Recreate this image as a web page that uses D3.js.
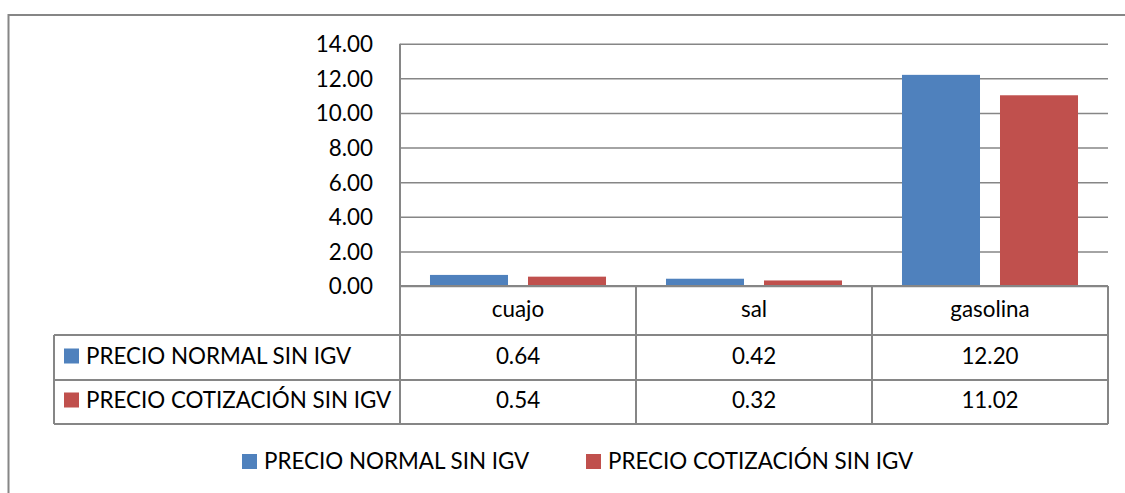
<!DOCTYPE html>
<html>
<head>
<meta charset="utf-8">
<script src="https://cdn.jsdelivr.net/npm/d3@7"></script>
<style>
  body { margin: 0; background: #fff; }
  svg { display: block; }
  text { font-family: Lato, "Liberation Sans", sans-serif; fill: #000; }
</style>
</head>
<body>
<div id="chart"></div>
<script>
// data
const categories = ["cuajo", "sal", "gasolina"];
const seriesNames = ["PRECIO NORMAL SIN IGV", "PRECIO COTIZACIÓN SIN IGV"];
const precioNormal = [0.64, 0.42, 12.20];
const precioCotizacion = [0.54, 0.32, 11.02];
const yTickValues = [0, 2, 4, 6, 8, 10, 12, 14];
const seriesColors = ["#4F81BD", "#C0504D"];

const W = 1125, H = 493;
const plot = {left: 400, right: 1108, top: 43.7, bottom: 286};
const fontSize = 22.4;
const lineColor = "#868686";

const allSeries = [precioNormal, precioCotizacion];

const svg = d3.select("#chart")
    .append("svg")
    .attr("width", W)
    .attr("height", H);

// outer chart border (runs past right/bottom of the frame)
svg.append("rect")
    .attr("x", 8.5).attr("y", 15)
    .attr("width", 1140).attr("height", 500)
    .attr("fill", "#fff")
    .attr("stroke", lineColor)
    .attr("stroke-width", 2);

const y = d3.scaleLinear().domain([0, 14]).range([plot.bottom, plot.top]);
const x0 = d3.scaleBand().domain(categories).range([plot.left, plot.right]);
const x1 = d3.scaleBand().domain(d3.range(seriesNames.length))
    .range([0, x0.bandwidth()])
    .paddingInner(0.204)
    .paddingOuter(0.306);

// gridlines
const grid = svg.append("g")
    .attr("transform", "translate(" + plot.left + ",0)")
    .call(d3.axisLeft(y).tickValues(yTickValues).tickSize(-(plot.right - plot.left)).tickFormat(""));
grid.select(".domain").remove();
grid.selectAll(".tick line").attr("stroke", lineColor).attr("stroke-width", 1.5);

// tick labels
const yAxis = svg.append("g")
    .attr("transform", "translate(" + plot.left + ",0)")
    .call(d3.axisLeft(y).tickValues(yTickValues).tickSize(0).tickPadding(27).tickFormat(d3.format(".2f")));
yAxis.select(".domain").remove();
yAxis.selectAll("text")
    .attr("dy", "0.35em")
    .style("font-family", "Lato, 'Liberation Sans', sans-serif")
    .style("font-size", fontSize + "px")
    .attr("fill", "#000");

// bars
const groups = svg.append("g")
    .selectAll("g")
    .data(categories)
    .enter()
    .append("g")
    .attr("transform", d => "translate(" + x0(d) + ",0)");

groups.selectAll("rect")
    .data((d, i) => allSeries.map((s, k) => ({k: k, v: s[i]})))
    .enter()
    .append("rect")
    .attr("x", d => x1(d.k))
    .attr("width", x1.bandwidth())
    .attr("y", d => y(d.v))
    .attr("height", d => y(0) - y(d.v))
    .attr("fill", d => seriesColors[d.k]);

// data table
const rowTop = [plot.bottom, 335, 380, 424];
const tableLeft = 54;
const tbl = svg.append("g")
    .attr("stroke", lineColor)
    .attr("stroke-width", 2)
    .attr("fill", "none");

// horizontal lines
tbl.append("line").attr("x1", plot.left).attr("x2", plot.right).attr("y1", rowTop[0]).attr("y2", rowTop[0]);
rowTop.slice(1).forEach(yy => {
    tbl.append("line").attr("x1", tableLeft).attr("x2", plot.right).attr("y1", yy).attr("y2", yy);
});
// vertical lines
tbl.append("line").attr("x1", tableLeft).attr("x2", tableLeft).attr("y1", rowTop[1]).attr("y2", rowTop[3]);
tbl.append("line").attr("x1", plot.left).attr("x2", plot.left).attr("y1", plot.top).attr("y2", rowTop[3]);
categories.forEach(c => {
    const xx = x0(c) + x0.bandwidth();
    tbl.append("line").attr("x1", xx).attr("x2", xx).attr("y1", rowTop[0]).attr("y2", rowTop[3]);
});

// category labels
svg.append("g").selectAll("text")
    .data(categories)
    .enter()
    .append("text")
    .attr("x", d => x0(d) + x0.bandwidth() / 2)
    .attr("y", 317)
    .attr("text-anchor", "middle")
    .style("font-size", fontSize + "px")
    .text(d => d);

// values and row labels
const rowBase = [364, 408];
allSeries.forEach((s, k) => {
    svg.append("g").selectAll("text")
        .data(s)
        .enter()
        .append("text")
        .attr("x", (d, i) => x0(categories[i]) + x0.bandwidth() / 2)
        .attr("y", rowBase[k])
        .attr("text-anchor", "middle")
        .style("font-size", fontSize + "px")
        .text(d => d3.format(".2f")(d));

    svg.append("rect")
        .attr("x", 64).attr("y", rowBase[k] - 15.5)
        .attr("width", 15).attr("height", 15)
        .attr("fill", seriesColors[k]);
    svg.append("text")
        .attr("x", 86).attr("y", rowBase[k])
        .style("font-size", fontSize + "px")
        .text(seriesNames[k]);
});

// legend
const legendX = [242, 586];
const legend = svg.append("g").selectAll("g")
    .data(seriesNames)
    .enter()
    .append("g")
    .attr("transform", (d, i) => "translate(" + legendX[i] + ",0)");
legend.append("rect")
    .attr("x", 0).attr("y", 454)
    .attr("width", 15).attr("height", 15)
    .attr("fill", (d, i) => seriesColors[i]);
legend.append("text")
    .attr("x", 22).attr("y", 469)
    .style("font-size", fontSize + "px")
    .text(d => d);
</script>
</body>
</html>
